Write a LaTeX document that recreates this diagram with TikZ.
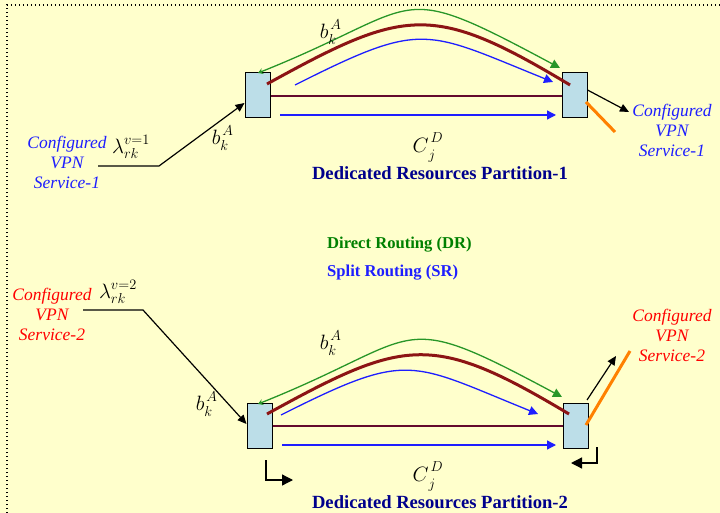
\documentclass[tikz,border=0pt]{standalone}
\usepackage{fontspec}
\setmainfont{Liberation Serif}
\usetikzlibrary{arrows.meta}
\definecolor{bg}{RGB}{255,255,204}
\definecolor{boxblue}{RGB}{188,222,232}
\definecolor{dgreen}{RGB}{40,150,40}
\definecolor{dred}{RGB}{140,20,20}
\definecolor{maroon}{RGB}{100,10,45}
\definecolor{lblue}{RGB}{30,30,255}
\definecolor{navy}{RGB}{0,0,140}
\definecolor{orng}{RGB}{255,128,0}
\definecolor{ttgreen}{RGB}{0,128,0}
\newcommand{\smallsz}{\fontsize{15}{15}\selectfont}
\newcommand{\bkA}{$b$\rlap{\hspace{2pt}\raisebox{9pt}{\smallsz$A$}}\raisebox{-6pt}{\smallsz$k$}\hspace{2pt}}
\newcommand{\CjD}{$C$\rlap{\hspace{2pt}\raisebox{10pt}{\smallsz$D$}}\raisebox{-7pt}{\smallsz$j$}\hspace{8pt}}
\begin{document}
\begin{tikzpicture}[x=1pt,y=-1pt,
  partbox/.style={draw=black,line width=1pt,fill=boxblue,minimum width=25pt,minimum height=45pt,inner sep=0pt},
  cfg/.style={align=center,font=\fontsize{17.5}{20}\selectfont\itshape,inner sep=0pt},
  mlabel/.style={font=\fontsize{21}{24}\selectfont,inner sep=0pt},
  lamlabel/.style={font=\fontsize{21}{24}\selectfont,inner sep=0pt},
  title/.style={font=\fontsize{18.6}{20}\selectfont\bfseries,text=navy,inner sep=0pt},
  legend/.style={font=\fontsize{16.6}{18}\selectfont\bfseries,inner sep=0pt},
  greenarc/.style={draw=dgreen,line width=1.3pt,{Stealth[length=5pt,width=6pt]}-{Triangle[length=9pt,width=9pt]}},
  redarc/.style={draw=dred,line width=3pt},
  bluearc/.style={draw=lblue,line width=1.3pt,-{Triangle[length=9pt,width=9pt]}},
  maroonline/.style={draw=maroon,line width=2.5pt},
  blackarrow/.style={draw=black,line width=1.2pt,-{Triangle[length=9pt,width=8pt]}},
  orangeline/.style={draw=orng,line width=3pt},
  bentarrow/.style={draw=black,line width=1.3pt,-{Triangle[length=11pt,width=11pt]}}
]
\useasboundingbox (0,0) rectangle (720,513);
\fill[bg] (0,0) rectangle (720,513);
\draw[line width=1.3pt,dash pattern=on 1.3pt off 2.7pt] (7,513) -- (7,5) -- (720,5);

% ---------- Partition 1 ----------
\node[partbox] (L1) at (257.5,95.5) {};
\node[partbox] (R1) at (574.5,95.5) {};

\coordinate (r1s) at (267,84);  \coordinate (r1e) at (570,85);
\coordinate (g1s) at (258,73);  \coordinate (g1e) at (560,68);
\coordinate (c1s) at (295,85);  \coordinate (c1e) at (553,82);
\draw[redarc] (r1s) .. controls (405,8) and (432,2) .. (r1e);
\draw[greenarc] (g1s) .. controls (428,5) and (390,-23) .. (g1e);
\draw[bluearc] (c1s) .. controls (424,20) and (424,30) .. (c1e);

\coordinate (m1a) at (L1.east |- 0,96);
\coordinate (m1b) at (R1.west |- 0,96);
\draw[maroonline] (m1a) -- (m1b);
\coordinate (h1a) at (280,115);
\coordinate (h1b) at (556,115);
\draw[bluearc] (h1a) -- (h1b);

\node[cfg,text=lblue] (s1L) at (67,162) {Configured\\VPN\\Service-1};
\node[cfg,text=lblue] (s1R) at (672,130) {Configured\\VPN\\Service-1};
\coordinate (in1a) at (98,166);
\coordinate (in1b) at (159,166);
\coordinate (in1c) at (L1.west |- 0,103);
\draw[blackarrow] (in1a) -- (in1b) -- (in1c);
\coordinate (out1a) at (R1.east |- 0,90);
\coordinate (out1b) at (629,112);
\draw[blackarrow] (out1a) -- (out1b);
\coordinate (or1a) at (586,102);
\coordinate (or1b) at (615,132);
\draw[orangeline] (or1a) -- (or1b);

\node[lamlabel] (lam1) at (131,147) {$\lambda^{\raisebox{2pt}{$\scriptstyle v=1$}}_{rk}$};
\node[mlabel] (b1in) at (220,138) {\bkA};
\node[mlabel] (b1top) at (328,32) {\bkA};
\node[mlabel] (c1) at (424,147) {\CjD};
\node[title] (p1) at (440,173) {Dedicated Resources Partition-1};

% ---------- legend ----------
\node[legend,text=ttgreen,anchor=west] (dr) at (327,245) {Direct Routing (DR)};
\node[legend,text=lblue,anchor=west] (sr) at (327,273) {Split Routing (SR)};

% ---------- Partition 2 ----------
\node[partbox] (L2) at (259.5,426) {};
\node[partbox] (R2) at (576,426) {};

\coordinate (r2s) at (267,414);  \coordinate (r2e) at (569,414);
\coordinate (g2s) at (258,404);  \coordinate (g2e) at (562,397);
\coordinate (c2s) at (281,415);  \coordinate (c2e) at (538,414);
\draw[redarc] (r2s) .. controls (405,338) and (432,332) .. (r2e);
\draw[greenarc] (g2s) .. controls (428,336) and (392,306) .. (g2e);
\draw[bluearc] (c2s) .. controls (410,350) and (409,362) .. (c2e);

\coordinate (m2a) at (L2.east |- 0,426);
\coordinate (m2b) at (R2.west |- 0,426);
\draw[maroonline] (m2a) -- (m2b);
\coordinate (h2a) at (282,445);
\coordinate (h2b) at (556,445);
\draw[bluearc] (h2a) -- (h2b);

\node[cfg,text=red] (s2L) at (52,314) {Configured\\VPN\\Service-2};
\node[cfg,text=red] (s2R) at (672,335) {Configured\\VPN\\Service-2};
\coordinate (in2a) at (83,310);
\coordinate (in2b) at (143,310);
\coordinate (in2c) at (L2.west |- 0,424);
\draw[blackarrow] (in2a) -- (in2b) -- (in2c);
\coordinate (out2a) at (587,400);
\coordinate (out2b) at (616,356);
\draw[blackarrow] (out2a) -- (out2b);
\coordinate (or2a) at (586,425);
\coordinate (or2b) at (630,351);
\draw[orangeline] (or2a) -- (or2b);

\coordinate (bl1) at (266,460);
\coordinate (bl2) at (266,480);
\coordinate (bl3) at (293,480);
\draw[bentarrow] (bl1) -- (bl2) -- (bl3);
\coordinate (br1) at (597,447);
\coordinate (br2) at (597,463);
\coordinate (br3) at (571,463);
\draw[bentarrow] (br1) -- (br2) -- (br3);

\node[lamlabel] (lam2) at (118,292) {$\lambda^{\raisebox{2pt}{$\scriptstyle v=2$}}_{rk}$};
\node[mlabel] (b2in) at (204,404) {\bkA};
\node[mlabel] (b2top) at (328,343) {\bkA};
\node[mlabel] (c2) at (424,476) {\CjD};
\node[title] (p2) at (440,502) {Dedicated Resources Partition-2};
\end{tikzpicture}
\end{document}
